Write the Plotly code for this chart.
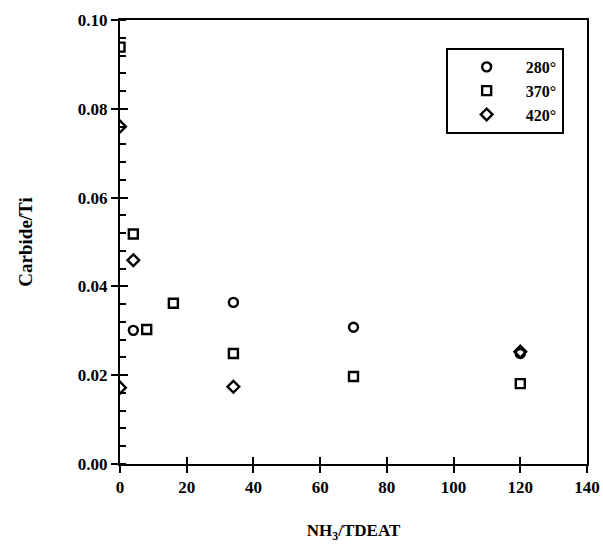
import plotly.graph_objects as go

# Data
x_280 = [4, 34, 70, 120]
y_280 = [0.0301, 0.0364, 0.0308, 0.0249]

x_370 = [0, 4, 8, 16, 34, 70, 120]
y_370 = [0.0939, 0.0518, 0.0303, 0.0362, 0.0249, 0.0197, 0.0181]

x_420 = [0, 0, 4, 34, 120]
y_420 = [0.0760, 0.0172, 0.0459, 0.0174, 0.0253]

series = [
    ("280°", x_280, y_280, "circle-open"),
    ("370°", x_370, y_370, "square-open"),
    ("420°", x_420, y_420, "diamond-open"),
]

x_ticks = [0, 20, 40, 60, 80, 100, 120, 140]
x_tick_labels = ["<b>%d</b>" % v for v in x_ticks]
y_ticks = [0.00, 0.02, 0.04, 0.06, 0.08, 0.10]
y_tick_labels = ["<b>%.2f</b>" % v for v in y_ticks]

font_family = "Liberation Serif"

fig = go.Figure()
for name, xs, ys, sym in series:
    fig.add_trace(go.Scatter(
        x=xs, y=ys, mode="markers", name="<b>" + name + "</b>",
        marker=dict(symbol=sym, size=9, color="black",
                    line=dict(color="black", width=2.4)),
    ))

# overlay axes to draw the inside halves of the crossing major ticks
fig.add_trace(go.Scatter(x=[None], y=[None], xaxis="x2", yaxis="y2",
                         showlegend=False, hoverinfo="skip"))

axis_common = dict(showgrid=False, zeroline=False, showline=True,
                   linecolor="black", linewidth=2, tickcolor="black",
                   tickwidth=2, automargin=False)

fig.update_layout(
    width=603, height=548,
    margin=dict(l=120, r=16, t=20, b=84),
    paper_bgcolor="white", plot_bgcolor="white",
    font=dict(family=font_family, size=17, color="black"),
    xaxis=dict(range=[0, 140], tickvals=x_ticks, ticktext=x_tick_labels,
               ticks="outside", ticklen=7, mirror=True,
               title=dict(text="<b>NH<sub>3</sub>/TDEAT</b>", standoff=28,
                          font=dict(size=17)),
               tickfont=dict(size=17), **axis_common),
    yaxis=dict(range=[0, 0.1], tickvals=y_ticks, ticktext=y_tick_labels,
               ticks="outside", ticklen=7, mirror=True,
               title=dict(text="<b>Carbide/Ti</b>", standoff=40,
                          font=dict(size=19)),
               tickfont=dict(size=17),
               minor=dict(dtick=0.004, ticks="inside", ticklen=6,
                          tickcolor="black", tickwidth=2),
               **axis_common),
    xaxis2=dict(range=[0, 140], tickvals=x_ticks, ticks="inside", ticklen=7,
                overlaying="x", showticklabels=False, showgrid=False,
                zeroline=False, tickcolor="black", tickwidth=2,
                anchor="y2", automargin=False),
    yaxis2=dict(range=[0, 0.1], tickvals=y_ticks, ticks="inside", ticklen=8,
                overlaying="y", showticklabels=False, showgrid=False,
                zeroline=False, tickcolor="black", tickwidth=2,
                anchor="x2", automargin=False),
    legend=dict(x=0.95, y=0.937, xanchor="right", yanchor="top",
                bordercolor="black", borderwidth=2, bgcolor="white",
                font=dict(family=font_family, size=16),
                itemwidth=68, tracegroupgap=0),
    showlegend=True,
)

fig.write_html("out.html")
